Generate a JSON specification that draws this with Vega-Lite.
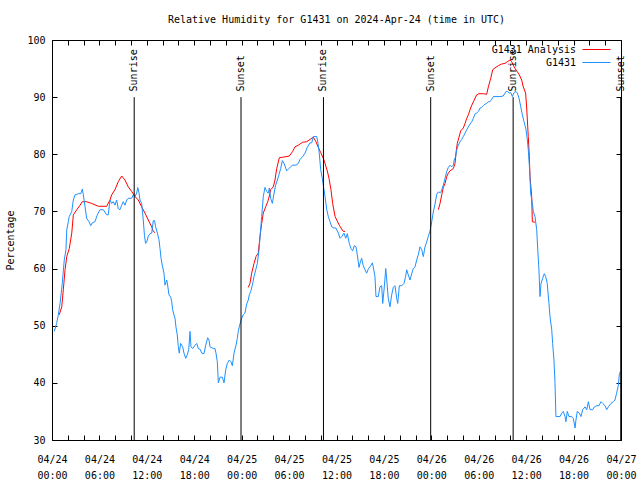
{
"$schema":"https://vega.github.io/schema/vega-lite/v6.json",
"width":569,"height":400,
"autosize":{"type":"none"},
"padding":{"left":52,"top":40,"right":19,"bottom":40},
"background":"white",
"config":{
 "font":"DejaVu Sans Mono",
 "view":{"stroke":"black","strokeWidth":1},
 "axis":{"domain":false,"grid":false,"tickColor":"black","tickSize":5,"tickWidth":1,"labelColor":"black","labelFont":"DejaVu Sans Mono","labelFontSize":10,"titleFont":"DejaVu Sans Mono","titleFontSize":10,"titleFontWeight":"normal","titleColor":"black"}
},
"title":{"text":"Relative Humidity for G1431 on 2024-Apr-24 (time in UTC)","font":"DejaVu Sans Mono","fontSize":10,"fontWeight":"normal","color":"black","anchor":"middle","frame":"group","offset":10},
"datasets":{
"ana":[
{"t":"2024-04-24T00:55Z","v":51.9,"g":1},{"t":"2024-04-24T01:14Z","v":53.3,"g":1},{"t":"2024-04-24T01:26Z","v":56.3,"g":1},{"t":"2024-04-24T01:39Z","v":59.8,"g":1},{"t":"2024-04-24T01:52Z","v":62.1,"g":1},{"t":"2024-04-24T02:11Z","v":63.5,"g":1},{"t":"2024-04-24T02:30Z","v":66.2,"g":1},{"t":"2024-04-24T02:42Z","v":69.4,"g":1},{"t":"2024-04-24T03:08Z","v":70.3,"g":1},{"t":"2024-04-24T03:33Z","v":71.1,"g":1},{"t":"2024-04-24T03:50Z","v":71.7,"g":1},{"t":"2024-04-24T04:23Z","v":71.7,"g":1},{"t":"2024-04-24T05:01Z","v":71.4,"g":1},{"t":"2024-04-24T05:52Z","v":70.9,"g":1},{"t":"2024-04-24T06:55Z","v":70.9,"g":1},{"t":"2024-04-24T07:20Z","v":72.0,"g":1},{"t":"2024-04-24T07:33Z","v":72.9,"g":1},{"t":"2024-04-24T07:58Z","v":73.8,"g":1},{"t":"2024-04-24T08:23Z","v":75.2,"g":1},{"t":"2024-04-24T08:49Z","v":76.2,"g":1},{"t":"2024-04-24T09:14Z","v":75.5,"g":1},{"t":"2024-04-24T09:39Z","v":74.3,"g":1},{"t":"2024-04-24T10:05Z","v":73.5,"g":1},{"t":"2024-04-24T10:30Z","v":72.6,"g":1},{"t":"2024-04-24T10:55Z","v":72.0,"g":1},{"t":"2024-04-24T11:21Z","v":70.8,"g":1},{"t":"2024-04-24T11:46Z","v":69.7,"g":1},{"t":"2024-04-24T12:11Z","v":68.5,"g":1},{"t":"2024-04-24T12:37Z","v":67.3,"g":1},{"t":"2024-04-24T12:49Z","v":66.5,"g":1},{"t":"2024-04-24T13:02Z","v":66.3,"g":1},
{"t":"2024-04-25T00:50Z","v":56.7,"g":2},{"t":"2024-04-25T01:03Z","v":57.4,"g":2},{"t":"2024-04-25T01:16Z","v":59.2,"g":2},{"t":"2024-04-25T01:34Z","v":60.9,"g":2},{"t":"2024-04-25T01:49Z","v":62.1,"g":2},{"t":"2024-04-25T02:06Z","v":62.7,"g":2},{"t":"2024-04-25T02:19Z","v":65.6,"g":2},{"t":"2024-04-25T02:32Z","v":67.9,"g":2},{"t":"2024-04-25T02:44Z","v":69.7,"g":2},{"t":"2024-04-25T03:02Z","v":70.8,"g":2},{"t":"2024-04-25T03:18Z","v":71.7,"g":2},{"t":"2024-04-25T03:30Z","v":72.7,"g":2},{"t":"2024-04-25T03:40Z","v":73.8,"g":2},{"t":"2024-04-25T04:00Z","v":74.3,"g":2},{"t":"2024-04-25T04:13Z","v":75.5,"g":2},{"t":"2024-04-25T04:26Z","v":77.5,"g":2},{"t":"2024-04-25T04:46Z","v":79.4,"g":2},{"t":"2024-04-25T05:16Z","v":79.5,"g":2},{"t":"2024-04-25T06:02Z","v":79.7,"g":2},{"t":"2024-04-25T06:27Z","v":80.5,"g":2},{"t":"2024-04-25T06:45Z","v":81.3,"g":2},{"t":"2024-04-25T07:10Z","v":81.6,"g":2},{"t":"2024-04-25T07:43Z","v":82.1,"g":2},{"t":"2024-04-25T08:14Z","v":82.2,"g":2},{"t":"2024-04-25T08:39Z","v":82.6,"g":2},{"t":"2024-04-25T09:04Z","v":83.0,"g":2},{"t":"2024-04-25T09:24Z","v":82.2,"g":2},{"t":"2024-04-25T09:42Z","v":81.2,"g":2},{"t":"2024-04-25T10:00Z","v":80.3,"g":2},{"t":"2024-04-25T10:20Z","v":79.3,"g":2},{"t":"2024-04-25T10:33Z","v":78.4,"g":2},{"t":"2024-04-25T10:50Z","v":77.1,"g":2},{"t":"2024-04-25T11:03Z","v":75.8,"g":2},{"t":"2024-04-25T11:18Z","v":73.8,"g":2},{"t":"2024-04-25T11:31Z","v":71.4,"g":2},{"t":"2024-04-25T11:49Z","v":69.1,"g":2},{"t":"2024-04-25T12:02Z","v":68.5,"g":2},{"t":"2024-04-25T12:21Z","v":67.6,"g":2},{"t":"2024-04-25T12:34Z","v":67.1,"g":2},{"t":"2024-04-25T12:52Z","v":66.5,"g":2},{"t":"2024-04-25T13:05Z","v":66.5,"g":2},
{"t":"2024-04-26T00:53Z","v":70.3,"g":3},{"t":"2024-04-26T01:06Z","v":71.4,"g":3},{"t":"2024-04-26T01:19Z","v":72.9,"g":3},{"t":"2024-04-26T01:31Z","v":74.2,"g":3},{"t":"2024-04-26T01:44Z","v":74.9,"g":3},{"t":"2024-04-26T01:57Z","v":76.1,"g":3},{"t":"2024-04-26T02:09Z","v":76.7,"g":3},{"t":"2024-04-26T02:22Z","v":77.1,"g":3},{"t":"2024-04-26T02:35Z","v":77.3,"g":3},{"t":"2024-04-26T02:47Z","v":77.5,"g":3},{"t":"2024-04-26T03:00Z","v":78.4,"g":3},{"t":"2024-04-26T03:07Z","v":80.2,"g":3},{"t":"2024-04-26T03:17Z","v":81.9,"g":3},{"t":"2024-04-26T03:30Z","v":83.0,"g":3},{"t":"2024-04-26T03:43Z","v":84.1,"g":3},{"t":"2024-04-26T04:03Z","v":84.6,"g":3},{"t":"2024-04-26T04:16Z","v":85.4,"g":3},{"t":"2024-04-26T04:29Z","v":86.3,"g":3},{"t":"2024-04-26T04:41Z","v":86.9,"g":3},{"t":"2024-04-26T04:54Z","v":87.8,"g":3},{"t":"2024-04-26T05:07Z","v":88.6,"g":3},{"t":"2024-04-26T05:24Z","v":89.4,"g":3},{"t":"2024-04-26T05:44Z","v":90.4,"g":3},{"t":"2024-04-26T06:02Z","v":90.6,"g":3},{"t":"2024-04-26T06:35Z","v":90.6,"g":3},{"t":"2024-04-26T07:00Z","v":90.5,"g":3},{"t":"2024-04-26T07:13Z","v":91.8,"g":3},{"t":"2024-04-26T07:31Z","v":93.3,"g":3},{"t":"2024-04-26T07:46Z","v":94.8,"g":3},{"t":"2024-04-26T08:03Z","v":95.1,"g":3},{"t":"2024-04-26T08:28Z","v":95.5,"g":3},{"t":"2024-04-26T08:54Z","v":95.8,"g":3},{"t":"2024-04-26T09:19Z","v":95.9,"g":3},{"t":"2024-04-26T09:37Z","v":96.2,"g":3},{"t":"2024-04-26T09:57Z","v":96.5,"g":3},{"t":"2024-04-26T10:10Z","v":96.2,"g":3},{"t":"2024-04-26T10:28Z","v":95.3,"g":3},{"t":"2024-04-26T10:48Z","v":94.6,"g":3},{"t":"2024-04-26T11:08Z","v":93.9,"g":3},{"t":"2024-04-26T11:26Z","v":93.0,"g":3},{"t":"2024-04-26T11:38Z","v":91.8,"g":3},{"t":"2024-04-26T11:56Z","v":90.7,"g":3},{"t":"2024-04-26T12:04Z","v":88.1,"g":3},{"t":"2024-04-26T12:09Z","v":86.0,"g":3},{"t":"2024-04-26T12:16Z","v":83.1,"g":3},{"t":"2024-04-26T12:24Z","v":79.6,"g":3},{"t":"2024-04-26T12:29Z","v":76.1,"g":3},{"t":"2024-04-26T12:42Z","v":72.6,"g":3},{"t":"2024-04-26T12:47Z","v":68.2,"g":3},{"t":"2024-04-26T13:07Z","v":68.1,"g":3}
],
"obs":[
{"t":"2024-04-24T00:17Z","v":49.0},{"t":"2024-04-24T00:35Z","v":50.4},{"t":"2024-04-24T00:48Z","v":51.9},{"t":"2024-04-24T01:01Z","v":53.9},{"t":"2024-04-24T01:18Z","v":57.4},{"t":"2024-04-24T01:33Z","v":61.5},{"t":"2024-04-24T01:46Z","v":63.3},{"t":"2024-04-24T01:52Z","v":66.8},{"t":"2024-04-24T02:04Z","v":68.2},{"t":"2024-04-24T02:11Z","v":69.1},{"t":"2024-04-24T02:30Z","v":70.0},{"t":"2024-04-24T02:42Z","v":72.0},{"t":"2024-04-24T02:55Z","v":72.9},{"t":"2024-04-24T03:20Z","v":73.1},{"t":"2024-04-24T03:38Z","v":73.1},{"t":"2024-04-24T03:50Z","v":73.9},{"t":"2024-04-24T03:58Z","v":72.9},{"t":"2024-04-24T04:11Z","v":70.8},{"t":"2024-04-24T04:23Z","v":68.8},{"t":"2024-04-24T04:41Z","v":68.2},{"t":"2024-04-24T04:54Z","v":67.5},{"t":"2024-04-24T05:06Z","v":68.0},{"t":"2024-04-24T05:26Z","v":68.2},{"t":"2024-04-24T05:44Z","v":69.4},{"t":"2024-04-24T06:04Z","v":70.3},{"t":"2024-04-24T06:29Z","v":70.3},{"t":"2024-04-24T06:55Z","v":69.4},{"t":"2024-04-24T07:07Z","v":69.4},{"t":"2024-04-24T07:20Z","v":72.0},{"t":"2024-04-24T07:33Z","v":71.4},{"t":"2024-04-24T07:45Z","v":71.7},{"t":"2024-04-24T07:58Z","v":71.1},{"t":"2024-04-24T08:11Z","v":72.0},{"t":"2024-04-24T08:23Z","v":70.5},{"t":"2024-04-24T08:36Z","v":70.3},{"t":"2024-04-24T08:49Z","v":71.1},{"t":"2024-04-24T09:01Z","v":71.7},{"t":"2024-04-24T09:14Z","v":71.1},{"t":"2024-04-24T09:27Z","v":72.0},{"t":"2024-04-24T09:39Z","v":72.3},{"t":"2024-04-24T10:05Z","v":72.3},{"t":"2024-04-24T10:17Z","v":72.9},{"t":"2024-04-24T10:30Z","v":72.6},{"t":"2024-04-24T10:43Z","v":73.2},{"t":"2024-04-24T10:51Z","v":74.2},{"t":"2024-04-24T11:01Z","v":73.2},{"t":"2024-04-24T11:08Z","v":72.0},{"t":"2024-04-24T11:21Z","v":71.4},{"t":"2024-04-24T11:33Z","v":68.5},{"t":"2024-04-24T11:42Z","v":65.8},{"t":"2024-04-24T11:50Z","v":64.4},{"t":"2024-04-24T11:59Z","v":64.6},{"t":"2024-04-24T12:11Z","v":65.7},{"t":"2024-04-24T12:24Z","v":66.1},{"t":"2024-04-24T12:37Z","v":66.2},{"t":"2024-04-24T12:49Z","v":68.4},{"t":"2024-04-24T12:58Z","v":68.4},{"t":"2024-04-24T13:07Z","v":67.3},{"t":"2024-04-24T13:20Z","v":66.2},{"t":"2024-04-24T13:32Z","v":65.1},{"t":"2024-04-24T13:40Z","v":63.5},{"t":"2024-04-24T13:48Z","v":61.8},{"t":"2024-04-24T13:57Z","v":60.6},{"t":"2024-04-24T14:10Z","v":59.2},{"t":"2024-04-24T14:18Z","v":57.1},{"t":"2024-04-24T14:31Z","v":58.0},{"t":"2024-04-24T14:38Z","v":57.1},{"t":"2024-04-24T14:48Z","v":55.4},{"t":"2024-04-24T15:01Z","v":55.0},{"t":"2024-04-24T15:09Z","v":54.2},{"t":"2024-04-24T15:16Z","v":52.8},{"t":"2024-04-24T15:26Z","v":51.9},{"t":"2024-04-24T15:34Z","v":51.3},{"t":"2024-04-24T15:41Z","v":49.8},{"t":"2024-04-24T15:51Z","v":48.4},{"t":"2024-04-24T15:59Z","v":46.3},{"t":"2024-04-24T16:06Z","v":45.2},{"t":"2024-04-24T16:17Z","v":46.9},{"t":"2024-04-24T16:32Z","v":46.3},{"t":"2024-04-24T16:42Z","v":45.2},{"t":"2024-04-24T16:55Z","v":44.3},{"t":"2024-04-24T17:07Z","v":44.9},{"t":"2024-04-24T17:18Z","v":45.8},{"t":"2024-04-24T17:28Z","v":49.0},{"t":"2024-04-24T17:35Z","v":46.3},{"t":"2024-04-24T17:48Z","v":46.0},{"t":"2024-04-24T18:06Z","v":46.6},{"t":"2024-04-24T18:19Z","v":46.9},{"t":"2024-04-24T18:31Z","v":46.0},{"t":"2024-04-24T18:44Z","v":45.9},{"t":"2024-04-24T18:57Z","v":45.2},{"t":"2024-04-24T19:14Z","v":45.1},{"t":"2024-04-24T19:27Z","v":46.6},{"t":"2024-04-24T19:42Z","v":47.9},{"t":"2024-04-24T19:52Z","v":47.5},{"t":"2024-04-24T20:00Z","v":46.3},{"t":"2024-04-24T20:25Z","v":46.0},{"t":"2024-04-24T20:38Z","v":46.0},{"t":"2024-04-24T20:45Z","v":45.2},{"t":"2024-04-24T20:55Z","v":43.7},{"t":"2024-04-24T21:03Z","v":40.0},{"t":"2024-04-24T21:16Z","v":41.0},{"t":"2024-04-24T21:33Z","v":41.0},{"t":"2024-04-24T21:46Z","v":40.0},{"t":"2024-04-24T21:59Z","v":42.3},{"t":"2024-04-24T22:11Z","v":43.4},{"t":"2024-04-24T22:26Z","v":44.0},{"t":"2024-04-24T22:39Z","v":43.7},{"t":"2024-04-24T22:49Z","v":43.0},{"t":"2024-04-24T23:02Z","v":45.2},{"t":"2024-04-24T23:17Z","v":46.6},{"t":"2024-04-24T23:27Z","v":47.8},{"t":"2024-04-24T23:34Z","v":49.0},{"t":"2024-04-24T23:47Z","v":50.3},
{"t":"2024-04-25T00:00Z","v":51.3},{"t":"2024-04-25T00:12Z","v":51.9},{"t":"2024-04-25T00:25Z","v":52.2},{"t":"2024-04-25T00:38Z","v":53.8},{"t":"2024-04-25T00:50Z","v":54.5},{"t":"2024-04-25T00:58Z","v":55.4},{"t":"2024-04-25T01:09Z","v":56.0},{"t":"2024-04-25T01:21Z","v":57.1},{"t":"2024-04-25T01:34Z","v":58.6},{"t":"2024-04-25T01:47Z","v":59.8},{"t":"2024-04-25T01:59Z","v":60.9},{"t":"2024-04-25T02:12Z","v":63.3},{"t":"2024-04-25T02:25Z","v":67.1},{"t":"2024-04-25T02:32Z","v":69.1},{"t":"2024-04-25T02:44Z","v":72.6},{"t":"2024-04-25T02:57Z","v":74.2},{"t":"2024-04-25T03:10Z","v":73.5},{"t":"2024-04-25T03:22Z","v":73.2},{"t":"2024-04-25T03:30Z","v":74.1},{"t":"2024-04-25T03:40Z","v":72.3},{"t":"2024-04-25T03:53Z","v":71.4},{"t":"2024-04-25T04:06Z","v":73.2},{"t":"2024-04-25T04:18Z","v":74.6},{"t":"2024-04-25T04:31Z","v":75.5},{"t":"2024-04-25T04:43Z","v":76.4},{"t":"2024-04-25T04:56Z","v":77.5},{"t":"2024-04-25T05:09Z","v":78.9},{"t":"2024-04-25T05:24Z","v":78.3},{"t":"2024-04-25T05:42Z","v":77.1},{"t":"2024-04-25T05:54Z","v":77.4},{"t":"2024-04-25T06:12Z","v":77.8},{"t":"2024-04-25T06:27Z","v":78.1},{"t":"2024-04-25T06:52Z","v":78.1},{"t":"2024-04-25T07:10Z","v":78.4},{"t":"2024-04-25T07:23Z","v":79.1},{"t":"2024-04-25T07:43Z","v":79.6},{"t":"2024-04-25T08:01Z","v":80.2},{"t":"2024-04-25T08:18Z","v":81.2},{"t":"2024-04-25T08:39Z","v":82.0},{"t":"2024-04-25T08:52Z","v":82.0},{"t":"2024-04-25T09:04Z","v":83.1},{"t":"2024-04-25T09:30Z","v":83.1},{"t":"2024-04-25T09:40Z","v":81.9},{"t":"2024-04-25T09:49Z","v":80.2},{"t":"2024-04-25T10:00Z","v":77.3},{"t":"2024-04-25T10:12Z","v":75.8},{"t":"2024-04-25T10:25Z","v":73.8},{"t":"2024-04-25T10:33Z","v":72.6},{"t":"2024-04-25T10:46Z","v":70.3},{"t":"2024-04-25T10:58Z","v":69.1},{"t":"2024-04-25T11:11Z","v":68.2},{"t":"2024-04-25T11:24Z","v":67.3},{"t":"2024-04-25T11:41Z","v":67.1},{"t":"2024-04-25T11:56Z","v":67.1},{"t":"2024-04-25T12:14Z","v":66.2},{"t":"2024-04-25T12:27Z","v":65.3},{"t":"2024-04-25T12:40Z","v":65.6},{"t":"2024-04-25T12:57Z","v":66.2},{"t":"2024-04-25T13:10Z","v":65.3},{"t":"2024-04-25T13:22Z","v":66.1},{"t":"2024-04-25T13:37Z","v":64.4},{"t":"2024-04-25T13:50Z","v":63.5},{"t":"2024-04-25T14:03Z","v":63.1},{"t":"2024-04-25T14:15Z","v":64.0},{"t":"2024-04-25T14:28Z","v":63.8},{"t":"2024-04-25T14:38Z","v":62.4},{"t":"2024-04-25T14:51Z","v":60.2},{"t":"2024-04-25T14:58Z","v":60.9},{"t":"2024-04-25T15:11Z","v":61.8},{"t":"2024-04-25T15:23Z","v":60.5},{"t":"2024-04-25T15:36Z","v":59.8},{"t":"2024-04-25T15:49Z","v":59.2},{"t":"2024-04-25T16:01Z","v":59.9},{"t":"2024-04-25T16:20Z","v":60.5},{"t":"2024-04-25T16:32Z","v":61.0},{"t":"2024-04-25T16:39Z","v":60.3},{"t":"2024-04-25T16:52Z","v":58.6},{"t":"2024-04-25T17:00Z","v":55.1},{"t":"2024-04-25T17:17Z","v":55.1},{"t":"2024-04-25T17:30Z","v":56.8},{"t":"2024-04-25T17:43Z","v":57.0},{"t":"2024-04-25T17:51Z","v":53.9},{"t":"2024-04-25T18:03Z","v":56.8},{"t":"2024-04-25T18:14Z","v":60.0},{"t":"2024-04-25T18:26Z","v":56.8},{"t":"2024-04-25T18:33Z","v":54.8},{"t":"2024-04-25T18:46Z","v":53.3},{"t":"2024-04-25T18:59Z","v":55.4},{"t":"2024-04-25T19:11Z","v":56.7},{"t":"2024-04-25T19:24Z","v":57.0},{"t":"2024-04-25T19:37Z","v":54.8},{"t":"2024-04-25T19:45Z","v":53.9},{"t":"2024-04-25T19:57Z","v":57.0},{"t":"2024-04-25T20:15Z","v":57.0},{"t":"2024-04-25T20:32Z","v":57.4},{"t":"2024-04-25T20:45Z","v":58.6},{"t":"2024-04-25T20:53Z","v":59.8},{"t":"2024-04-25T21:05Z","v":58.9},{"t":"2024-04-25T21:18Z","v":58.0},{"t":"2024-04-25T21:31Z","v":59.1},{"t":"2024-04-25T21:43Z","v":60.0},{"t":"2024-04-25T21:56Z","v":60.3},{"t":"2024-04-25T22:09Z","v":61.5},{"t":"2024-04-25T22:21Z","v":62.4},{"t":"2024-04-25T22:34Z","v":63.8},{"t":"2024-04-25T22:47Z","v":63.3},{"t":"2024-04-25T22:59Z","v":62.1},{"t":"2024-04-25T23:12Z","v":63.8},{"t":"2024-04-25T23:25Z","v":64.7},{"t":"2024-04-25T23:37Z","v":65.6},{"t":"2024-04-25T23:50Z","v":66.6},
{"t":"2024-04-26T00:03Z","v":68.2},{"t":"2024-04-26T00:15Z","v":69.9},{"t":"2024-04-26T00:28Z","v":71.3},{"t":"2024-04-26T00:41Z","v":73.0},{"t":"2024-04-26T00:53Z","v":73.4},{"t":"2024-04-26T01:11Z","v":73.3},{"t":"2024-04-26T01:19Z","v":73.8},{"t":"2024-04-26T01:31Z","v":74.6},{"t":"2024-04-26T01:44Z","v":75.8},{"t":"2024-04-26T01:57Z","v":77.0},{"t":"2024-04-26T02:09Z","v":77.7},{"t":"2024-04-26T02:22Z","v":78.1},{"t":"2024-04-26T02:35Z","v":77.8},{"t":"2024-04-26T02:47Z","v":78.1},{"t":"2024-04-26T02:54Z","v":79.0},{"t":"2024-04-26T03:05Z","v":79.6},{"t":"2024-04-26T03:13Z","v":80.8},{"t":"2024-04-26T03:25Z","v":81.6},{"t":"2024-04-26T03:38Z","v":82.2},{"t":"2024-04-26T03:51Z","v":82.6},{"t":"2024-04-26T04:03Z","v":83.1},{"t":"2024-04-26T04:16Z","v":83.7},{"t":"2024-04-26T04:29Z","v":84.3},{"t":"2024-04-26T04:41Z","v":84.8},{"t":"2024-04-26T04:54Z","v":85.3},{"t":"2024-04-26T05:07Z","v":85.7},{"t":"2024-04-26T05:19Z","v":86.3},{"t":"2024-04-26T05:32Z","v":87.1},{"t":"2024-04-26T05:44Z","v":87.2},{"t":"2024-04-26T05:57Z","v":87.5},{"t":"2024-04-26T06:10Z","v":88.1},{"t":"2024-04-26T06:22Z","v":88.2},{"t":"2024-04-26T06:35Z","v":88.5},{"t":"2024-04-26T06:48Z","v":88.8},{"t":"2024-04-26T07:00Z","v":88.9},{"t":"2024-04-26T07:13Z","v":89.2},{"t":"2024-04-26T07:25Z","v":89.2},{"t":"2024-04-26T07:38Z","v":89.6},{"t":"2024-04-26T07:51Z","v":90.1},{"t":"2024-04-26T08:41Z","v":90.1},{"t":"2024-04-26T09:06Z","v":90.2},{"t":"2024-04-26T09:19Z","v":90.7},{"t":"2024-04-26T09:27Z","v":91.0},{"t":"2024-04-26T09:37Z","v":91.0},{"t":"2024-04-26T09:52Z","v":90.7},{"t":"2024-04-26T10:03Z","v":90.8},{"t":"2024-04-26T10:15Z","v":90.1},{"t":"2024-04-26T10:28Z","v":90.8},{"t":"2024-04-26T10:43Z","v":91.0},{"t":"2024-04-26T10:53Z","v":90.7},{"t":"2024-04-26T11:06Z","v":89.8},{"t":"2024-04-26T11:19Z","v":88.3},{"t":"2024-04-26T11:31Z","v":86.9},{"t":"2024-04-26T11:44Z","v":85.7},{"t":"2024-04-26T11:59Z","v":84.3},{"t":"2024-04-26T12:09Z","v":82.5},{"t":"2024-04-26T12:16Z","v":80.8},{"t":"2024-04-26T12:24Z","v":78.1},{"t":"2024-04-26T12:29Z","v":76.1},{"t":"2024-04-26T12:34Z","v":73.2},{"t":"2024-04-26T12:47Z","v":71.4},{"t":"2024-04-26T12:54Z","v":70.0},{"t":"2024-04-26T13:07Z","v":69.1},{"t":"2024-04-26T13:20Z","v":66.8},{"t":"2024-04-26T13:28Z","v":63.3},{"t":"2024-04-26T13:37Z","v":59.8},{"t":"2024-04-26T13:45Z","v":55.1},{"t":"2024-04-26T13:53Z","v":57.4},{"t":"2024-04-26T14:05Z","v":58.3},{"t":"2024-04-26T14:18Z","v":59.1},{"t":"2024-04-26T14:28Z","v":58.6},{"t":"2024-04-26T14:40Z","v":57.4},{"t":"2024-04-26T14:53Z","v":53.9},{"t":"2024-04-26T15:01Z","v":51.6},{"t":"2024-04-26T15:14Z","v":49.3},{"t":"2024-04-26T15:21Z","v":46.9},{"t":"2024-04-26T15:31Z","v":44.0},{"t":"2024-04-26T15:39Z","v":39.9},{"t":"2024-04-26T15:46Z","v":34.1},{"t":"2024-04-26T16:17Z","v":34.1},{"t":"2024-04-26T16:30Z","v":34.7},{"t":"2024-04-26T16:42Z","v":35.0},{"t":"2024-04-26T16:55Z","v":34.1},{"t":"2024-04-26T17:02Z","v":33.2},{"t":"2024-04-26T17:12Z","v":35.0},{"t":"2024-04-26T17:25Z","v":34.1},{"t":"2024-04-26T17:46Z","v":34.1},{"t":"2024-04-26T17:58Z","v":33.8},{"t":"2024-04-26T18:11Z","v":32.1},{"t":"2024-04-26T18:18Z","v":33.5},{"t":"2024-04-26T18:28Z","v":35.0},{"t":"2024-04-26T18:43Z","v":34.7},{"t":"2024-04-26T18:56Z","v":34.1},{"t":"2024-04-26T19:09Z","v":35.3},{"t":"2024-04-26T19:27Z","v":35.8},{"t":"2024-04-26T19:40Z","v":35.3},{"t":"2024-04-26T19:52Z","v":36.7},{"t":"2024-04-26T20:05Z","v":35.3},{"t":"2024-04-26T20:25Z","v":35.3},{"t":"2024-04-26T20:37Z","v":35.8},{"t":"2024-04-26T20:56Z","v":36.0},{"t":"2024-04-26T21:13Z","v":36.0},{"t":"2024-04-26T21:28Z","v":36.7},{"t":"2024-04-26T21:41Z","v":36.4},{"t":"2024-04-26T21:59Z","v":36.0},{"t":"2024-04-26T22:11Z","v":35.3},{"t":"2024-04-26T22:24Z","v":35.8},{"t":"2024-04-26T22:44Z","v":36.4},{"t":"2024-04-26T23:02Z","v":36.7},{"t":"2024-04-26T23:14Z","v":37.0},{"t":"2024-04-26T23:27Z","v":38.2},{"t":"2024-04-26T23:40Z","v":39.6},{"t":"2024-04-26T23:47Z","v":41.4},{"t":"2024-04-26T23:55Z","v":42.0}
],
"sun":[
{"t":"2024-04-24T10:24Z","label":"Sunrise"},{"t":"2024-04-24T23:55Z","label":"Sunset"},{"t":"2024-04-25T10:21Z","label":"Sunrise"},{"t":"2024-04-25T23:55Z","label":"Sunset"},{"t":"2024-04-26T10:21Z","label":"Sunrise"},{"t":"2024-04-26T23:58Z","label":"Sunset"}
]
},
"resolve":{"axis":{"x":"independent","y":"independent"}},
"layer":[
{"data":{"name":"ana"},
 "mark":{"type":"line","strokeWidth":1},
 "encoding":{
  "x":{"field":"t","type":"temporal","scale":{"type":"utc","domain":[{"year":2024,"month":4,"date":24,"utc":true},{"year":2024,"month":4,"date":27,"utc":true}]},
       "axis":{"orient":"bottom","title":null,"ticks":false,"format":"%m/%d","labelPadding":14,"labelOverlap":false,"labelFlush":false,"labelBound":false,
        "values":[{"year":2024,"month":4,"date":24,"hours":0,"utc":true},{"year":2024,"month":4,"date":24,"hours":6,"utc":true},{"year":2024,"month":4,"date":24,"hours":12,"utc":true},{"year":2024,"month":4,"date":24,"hours":18,"utc":true},{"year":2024,"month":4,"date":25,"hours":0,"utc":true},{"year":2024,"month":4,"date":25,"hours":6,"utc":true},{"year":2024,"month":4,"date":25,"hours":12,"utc":true},{"year":2024,"month":4,"date":25,"hours":18,"utc":true},{"year":2024,"month":4,"date":26,"hours":0,"utc":true},{"year":2024,"month":4,"date":26,"hours":6,"utc":true},{"year":2024,"month":4,"date":26,"hours":12,"utc":true},{"year":2024,"month":4,"date":26,"hours":18,"utc":true},{"year":2024,"month":4,"date":27,"hours":0,"utc":true}]}},
  "y":{"field":"v","type":"quantitative","scale":{"domain":[30,100],"nice":false,"zero":false},
       "axis":{"orient":"left","offset":-5,"values":[30,40,50,60,70,80,90,100],"labelPadding":7,"title":"Percentage","titlePadding":11}},
  "color":{"datum":"G1431 Analysis","type":"nominal","scale":{"domain":["G1431 Analysis","G1431"],"range":["#ff0000","#1e90ff"]},
       "legend":{"orient":"none","legendX":537,"legendY":2,"title":null,"symbolType":"M-2,0H2","symbolSize":196,"symbolStrokeWidth":1,"labelAlign":"right","labelOffset":-28,"labelFont":"DejaVu Sans Mono","labelFontSize":10,"labelColor":"black","rowPadding":-1,"padding":0}},
  "detail":{"field":"g","type":"nominal"}
 }},
{"data":{"name":"obs"},
 "mark":{"type":"line","strokeWidth":1},
 "encoding":{
  "x":{"field":"t","type":"temporal","scale":{"type":"utc"},"axis":{"orient":"top","offset":-5,"title":null,"labels":false,
        "values":[{"year":2024,"month":4,"date":24,"hours":0,"utc":true},{"year":2024,"month":4,"date":24,"hours":2,"utc":true},{"year":2024,"month":4,"date":24,"hours":4,"utc":true},{"year":2024,"month":4,"date":24,"hours":6,"utc":true},{"year":2024,"month":4,"date":24,"hours":8,"utc":true},{"year":2024,"month":4,"date":24,"hours":10,"utc":true},{"year":2024,"month":4,"date":24,"hours":12,"utc":true},{"year":2024,"month":4,"date":24,"hours":14,"utc":true},{"year":2024,"month":4,"date":24,"hours":16,"utc":true},{"year":2024,"month":4,"date":24,"hours":18,"utc":true},{"year":2024,"month":4,"date":24,"hours":20,"utc":true},{"year":2024,"month":4,"date":24,"hours":22,"utc":true},{"year":2024,"month":4,"date":25,"hours":0,"utc":true},{"year":2024,"month":4,"date":25,"hours":2,"utc":true},{"year":2024,"month":4,"date":25,"hours":4,"utc":true},{"year":2024,"month":4,"date":25,"hours":6,"utc":true},{"year":2024,"month":4,"date":25,"hours":8,"utc":true},{"year":2024,"month":4,"date":25,"hours":10,"utc":true},{"year":2024,"month":4,"date":25,"hours":12,"utc":true},{"year":2024,"month":4,"date":25,"hours":14,"utc":true},{"year":2024,"month":4,"date":25,"hours":16,"utc":true},{"year":2024,"month":4,"date":25,"hours":18,"utc":true},{"year":2024,"month":4,"date":25,"hours":20,"utc":true},{"year":2024,"month":4,"date":25,"hours":22,"utc":true},{"year":2024,"month":4,"date":26,"hours":0,"utc":true},{"year":2024,"month":4,"date":26,"hours":2,"utc":true},{"year":2024,"month":4,"date":26,"hours":4,"utc":true},{"year":2024,"month":4,"date":26,"hours":6,"utc":true},{"year":2024,"month":4,"date":26,"hours":8,"utc":true},{"year":2024,"month":4,"date":26,"hours":10,"utc":true},{"year":2024,"month":4,"date":26,"hours":12,"utc":true},{"year":2024,"month":4,"date":26,"hours":14,"utc":true},{"year":2024,"month":4,"date":26,"hours":16,"utc":true},{"year":2024,"month":4,"date":26,"hours":18,"utc":true},{"year":2024,"month":4,"date":26,"hours":20,"utc":true},{"year":2024,"month":4,"date":26,"hours":22,"utc":true},{"year":2024,"month":4,"date":27,"hours":0,"utc":true}]}},
  "y":{"field":"v","type":"quantitative","axis":{"orient":"right","offset":-5,"title":null,"labels":false,"values":[30,40,50,60,70,80,90,100]}},
  "color":{"datum":"G1431","type":"nominal"}
 }},
{"data":{"name":"sun"},
 "mark":{"type":"rule","color":"black","strokeWidth":1},
 "encoding":{
  "x":{"field":"t","type":"temporal","scale":{"type":"utc"},"axis":{"orient":"bottom","offset":-5,"title":null,"labels":false,
        "values":[{"year":2024,"month":4,"date":24,"hours":0,"utc":true},{"year":2024,"month":4,"date":24,"hours":2,"utc":true},{"year":2024,"month":4,"date":24,"hours":4,"utc":true},{"year":2024,"month":4,"date":24,"hours":6,"utc":true},{"year":2024,"month":4,"date":24,"hours":8,"utc":true},{"year":2024,"month":4,"date":24,"hours":10,"utc":true},{"year":2024,"month":4,"date":24,"hours":12,"utc":true},{"year":2024,"month":4,"date":24,"hours":14,"utc":true},{"year":2024,"month":4,"date":24,"hours":16,"utc":true},{"year":2024,"month":4,"date":24,"hours":18,"utc":true},{"year":2024,"month":4,"date":24,"hours":20,"utc":true},{"year":2024,"month":4,"date":24,"hours":22,"utc":true},{"year":2024,"month":4,"date":25,"hours":0,"utc":true},{"year":2024,"month":4,"date":25,"hours":2,"utc":true},{"year":2024,"month":4,"date":25,"hours":4,"utc":true},{"year":2024,"month":4,"date":25,"hours":6,"utc":true},{"year":2024,"month":4,"date":25,"hours":8,"utc":true},{"year":2024,"month":4,"date":25,"hours":10,"utc":true},{"year":2024,"month":4,"date":25,"hours":12,"utc":true},{"year":2024,"month":4,"date":25,"hours":14,"utc":true},{"year":2024,"month":4,"date":25,"hours":16,"utc":true},{"year":2024,"month":4,"date":25,"hours":18,"utc":true},{"year":2024,"month":4,"date":25,"hours":20,"utc":true},{"year":2024,"month":4,"date":25,"hours":22,"utc":true},{"year":2024,"month":4,"date":26,"hours":0,"utc":true},{"year":2024,"month":4,"date":26,"hours":2,"utc":true},{"year":2024,"month":4,"date":26,"hours":4,"utc":true},{"year":2024,"month":4,"date":26,"hours":6,"utc":true},{"year":2024,"month":4,"date":26,"hours":8,"utc":true},{"year":2024,"month":4,"date":26,"hours":10,"utc":true},{"year":2024,"month":4,"date":26,"hours":12,"utc":true},{"year":2024,"month":4,"date":26,"hours":14,"utc":true},{"year":2024,"month":4,"date":26,"hours":16,"utc":true},{"year":2024,"month":4,"date":26,"hours":18,"utc":true},{"year":2024,"month":4,"date":26,"hours":20,"utc":true},{"year":2024,"month":4,"date":26,"hours":22,"utc":true},{"year":2024,"month":4,"date":27,"hours":0,"utc":true}]}},
  "y":{"datum":30,"type":"quantitative","axis":null},
  "y2":{"datum":90}
 }},
{"data":{"name":"sun"},
 "mark":{"type":"text","angle":270,"align":"left","baseline":"middle","font":"DejaVu Sans Mono","fontSize":10,"color":"black"},
 "encoding":{
  "x":{"field":"t","type":"temporal","scale":{"type":"utc"},"axis":{"orient":"bottom","title":null,"ticks":false,"format":"%H:%M","labelPadding":30,"labelOverlap":false,"labelFlush":false,"labelBound":false,
        "values":[{"year":2024,"month":4,"date":24,"hours":0,"utc":true},{"year":2024,"month":4,"date":24,"hours":6,"utc":true},{"year":2024,"month":4,"date":24,"hours":12,"utc":true},{"year":2024,"month":4,"date":24,"hours":18,"utc":true},{"year":2024,"month":4,"date":25,"hours":0,"utc":true},{"year":2024,"month":4,"date":25,"hours":6,"utc":true},{"year":2024,"month":4,"date":25,"hours":12,"utc":true},{"year":2024,"month":4,"date":25,"hours":18,"utc":true},{"year":2024,"month":4,"date":26,"hours":0,"utc":true},{"year":2024,"month":4,"date":26,"hours":6,"utc":true},{"year":2024,"month":4,"date":26,"hours":12,"utc":true},{"year":2024,"month":4,"date":26,"hours":18,"utc":true},{"year":2024,"month":4,"date":27,"hours":0,"utc":true}]}},
  "y":{"datum":91,"type":"quantitative","axis":null},
  "text":{"field":"label","type":"nominal"}
 }}
]
}
